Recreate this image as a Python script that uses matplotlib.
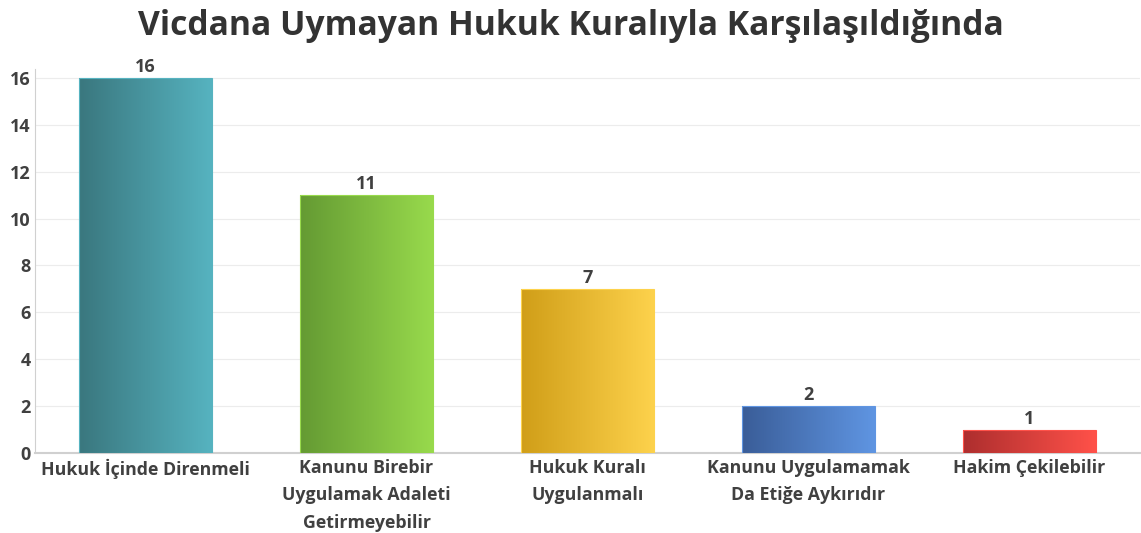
import matplotlib
matplotlib.use("Agg")
import matplotlib.pyplot as plt
import numpy as np
from matplotlib.colors import LinearSegmentedColormap

categories = ["Hukuk İçinde Direnmeli",
              "Kanunu Birebir\nUygulamak Adaleti\nGetirmeyebilir",
              "Hukuk Kuralı\nUygulanmalı",
              "Kanunu Uygulamamak\nDa Etiğe Aykırıdır",
              "Hakim Çekilebilir"]
values = [16, 11, 7, 2, 1]
left_colors = ["#3a777e", "#649a33", "#d09e18", "#3a5d98", "#ad2e2e"]
right_colors = ["#56b3c0", "#98da4c", "#fdd24c", "#5f95e2", "#ff5149"]
yticks = [0, 2, 4, 6, 8, 10, 12, 14, 16]

plt.rcParams['font.family'] = ['Open Sans', 'DejaVu Sans']
txt = "#404040"

fig = plt.figure(figsize=(11.41, 5.33), dpi=100)
ax = fig.add_axes([35/1141, 80/533, 1105/1141, 384/533])
x = np.arange(len(values))
bars = ax.bar(x, values, width=0.6, color="none", edgecolor="none", zorder=3)
grad = np.linspace(0, 1, 256).reshape(1, -1)
for b, lc, rc, v in zip(bars, left_colors, right_colors, values):
    cmap = LinearSegmentedColormap.from_list("g", [lc, rc])
    x0, w, h = b.get_x(), b.get_width(), b.get_height()
    im = ax.imshow(grad, cmap=cmap, extent=[x0, x0 + w, 0, h], aspect="auto", zorder=3)
    im.set_clip_path(b)
    ax.add_patch(plt.Rectangle((x0, 0), w, h, fill=False, edgecolor=rc, lw=0.8, zorder=4))
    ax.text(x0 + w/2, h + 0.08, str(v), ha="center", va="bottom", fontsize=13,
            fontweight="bold", color=txt, zorder=5)

ax.set_xlim(-0.5, 4.5)
ax.set_ylim(0, 16.38)
ax.set_yticks(yticks)
ax.set_yticklabels([str(t) for t in yticks], fontsize=13, fontweight="bold", color=txt)
ax.set_xticks(x)
ax.set_xticklabels(categories, fontsize=12.8, fontweight="bold", color=txt, linespacing=1.7)
ax.tick_params(axis="both", length=0)
ax.tick_params(axis="y", pad=3)
ax.tick_params(axis="x", pad=4)
ax.yaxis.grid(True, color="#ececec", lw=0.8, zorder=0)
ax.set_axisbelow(True)
for s in ["top", "right"]:
    ax.spines[s].set_visible(False)
ax.spines["left"].set_color("#d0d0d0")
ax.spines["bottom"].set_color("#d0d0d0")
ax.spines["bottom"].set_linewidth(1.5)

fig.text(0.5, 1 - 26/533, "Vicdana Uymayan Hukuk Kuralıyla Karşılaşıldığında", ha="center",
         va="center", fontsize=24.2, fontweight="bold", color="#333333")
fig.savefig("out.png", dpi=100)
